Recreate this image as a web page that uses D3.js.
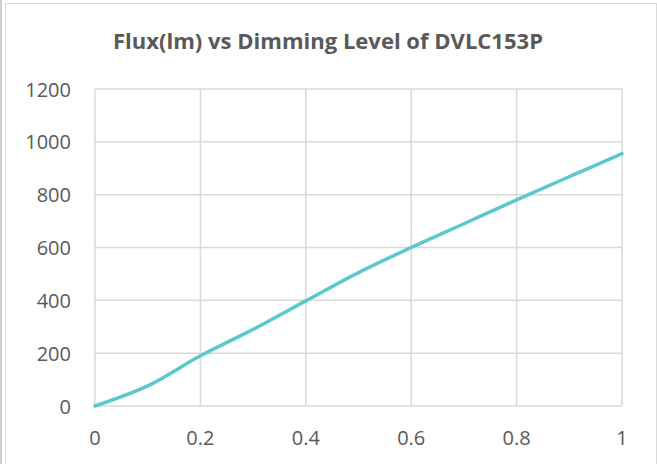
<!doctype html>
<html>
<head>
<meta charset="utf-8">
<script src="https://cdn.jsdelivr.net/npm/d3@7"></script>
<style>
    html, body { margin: 0; padding: 0; background: #fff; }
    #viz svg text { font-family: "Open Sans", sans-serif; fill: #595959; }
</style>
</head>
<body>
<div id="viz"></div>
<script>
    // dimming level vs luminous flux
    var dimLevels = [0, 0.1, 0.2, 0.3, 0.4, 0.5, 0.6, 0.7, 0.8, 0.9, 1];
    var fluxValues = [0, 76, 190, 290, 398, 505, 600, 690, 780, 868, 955];
    var xTicks = [0, 0.2, 0.4, 0.6, 0.8, 1];
    var yTicks = [0, 200, 400, 600, 800, 1000, 1200];
    var titleText = "Flux(lm) vs Dimming Level of DVLC153P";

    var renderChart = function () {
        var w = 657, h = 464;
        var plotL = 95, plotR = 622, plotT = 89, plotB = 406;

        var svg = d3.select("#viz").append("svg")
            .attr("width", w)
            .attr("height", h);

        // chart frame
        svg.append("line")
            .attr("x1", 1).attr("x2", 1).attr("y1", 0).attr("y2", h)
            .attr("stroke", "#d0d0d0").attr("stroke-width", 2);
        svg.append("rect")
            .attr("x", 5.5).attr("y", 3.5)
            .attr("width", w - 6).attr("height", h + 10)
            .attr("fill", "none")
            .attr("stroke", "#d9d9d9").attr("stroke-width", 1);

        var x = d3.scaleLinear().domain([0, 1]).range([plotL, plotR]);
        var y = d3.scaleLinear().domain([0, 1200]).range([plotB, plotT]);

        // gridlines
        svg.append("g").selectAll("line").data(yTicks).enter().append("line")
            .attr("x1", plotL).attr("x2", plotR)
            .attr("y1", function (d) { return y(d); })
            .attr("y2", function (d) { return y(d); })
            .attr("stroke", "#d9d9d9").attr("stroke-width", 1.5);
        svg.append("g").selectAll("line").data(xTicks).enter().append("line")
            .attr("y1", plotT).attr("y2", plotB)
            .attr("x1", function (d) { return x(d); })
            .attr("x2", function (d) { return x(d); })
            .attr("stroke", "#d9d9d9").attr("stroke-width", 1.5);

        // axis labels
        svg.append("g").selectAll("text").data(yTicks).enter().append("text")
            .attr("x", 71)
            .attr("y", function (d) { return y(d) + 7.5; })
            .attr("text-anchor", "end")
            .style("font-size", "20px")
            .text(function (d) { return d; });
        svg.append("g").selectAll("text").data(xTicks).enter().append("text")
            .attr("x", function (d) { return x(d); })
            .attr("y", 445)
            .attr("text-anchor", "middle")
            .style("font-size", "20px")
            .text(function (d) { return d; });

        // title
        svg.append("text")
            .attr("x", 113)
            .attr("y", 49)
            .attr("textLength", 430)
            .attr("lengthAdjust", "spacingAndGlyphs")
            .style("font-size", "22px")
            .style("font-weight", "bold")
            .text(titleText);

        var line = d3.line()
            .x(function (d, i) { return x(dimLevels[i]); })
            .y(function (d) { return y(d); })
            .curve(d3.curveCatmullRom.alpha(0.5));

        svg.append("path")
            .datum(fluxValues)
            .attr("d", line)
            .attr("fill", "none")
            .attr("stroke", "#5bc8cd")
            .attr("stroke-width", 3.5)
            .attr("stroke-linecap", "round");
    };

    renderChart();
</script>
</body>
</html>
